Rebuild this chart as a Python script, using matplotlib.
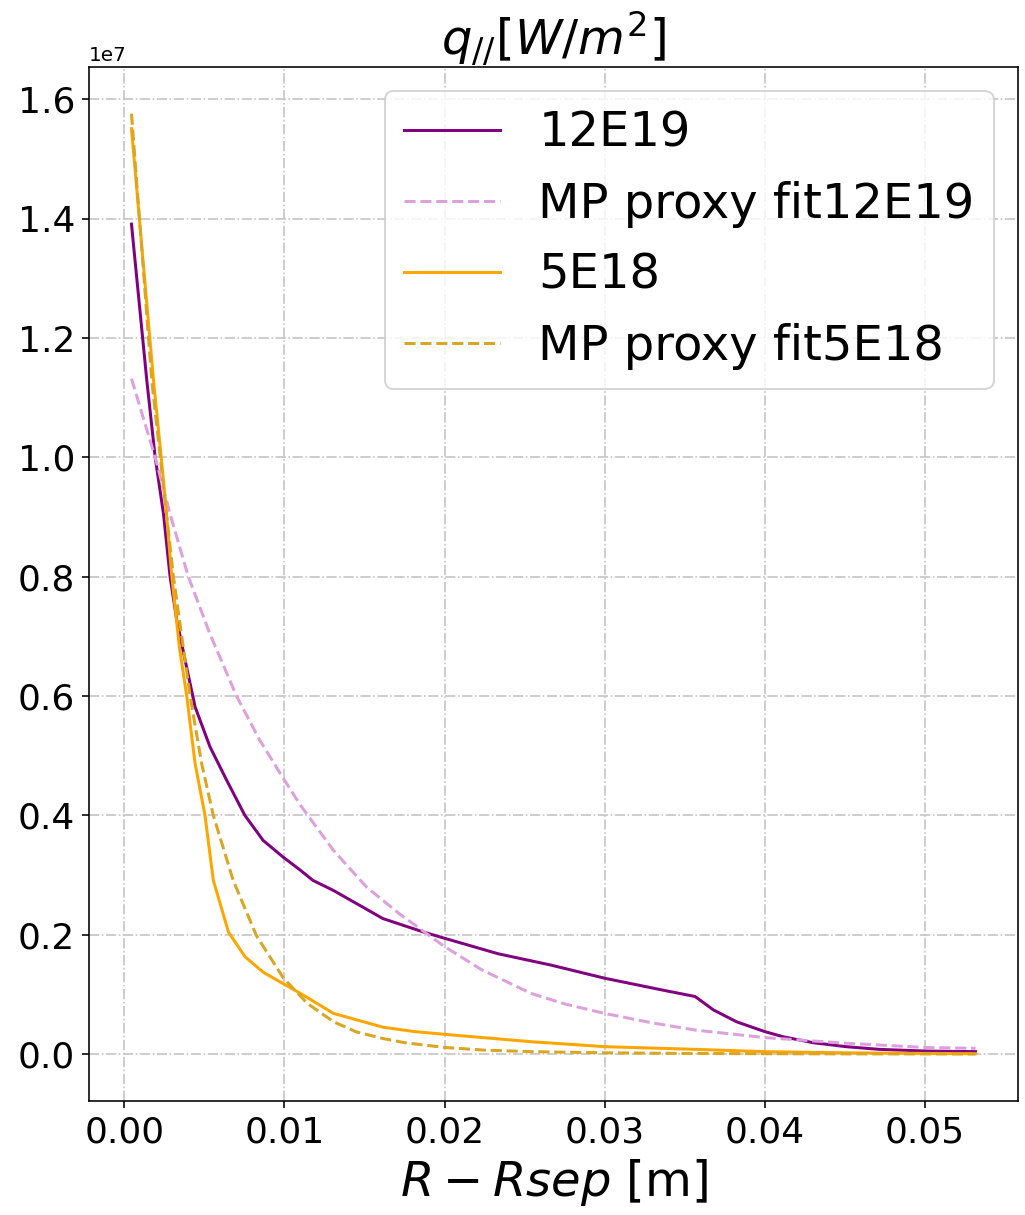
import matplotlib
matplotlib.use('Agg')
import matplotlib.pyplot as plt

import numpy as np

# upstream heat flux profiles vs distance from separatrix (values in units of 1e7 W/m^2)
x_12e19 = [0.00045, 0.00141, 0.00193, 0.00245, 0.00286, 0.00328, 0.0038, 0.00442,
           0.00535, 0.00639, 0.00753, 0.00867, 0.00992, 0.0110, 0.01178, 0.01307,
           0.01615, 0.01862, 0.0200, 0.02335, 0.02665, 0.0300, 0.03364, 0.03564,
           0.03678, 0.03823, 0.0400, 0.04113, 0.0430, 0.04507, 0.04714, 0.0500, 0.05315]
q_12e19 = [1.391, 1.128, 1.0, 0.905, 0.8, 0.727, 0.66, 0.582,
           0.515, 0.459, 0.40, 0.358, 0.33, 0.308, 0.291, 0.274,
           0.227, 0.205, 0.194, 0.168, 0.149, 0.127, 0.107, 0.0964,
           0.074, 0.054, 0.0375, 0.029, 0.019, 0.0123, 0.0078, 0.005, 0.004]

x_fit_12e19 = [0.00045, 0.00193, 0.00286, 0.0040, 0.00535, 0.00701, 0.00846, 0.0100,
               0.0110, 0.01307, 0.01512, 0.01718, 0.0200, 0.02233, 0.02541, 0.0275,
               0.0300, 0.0330, 0.0357, 0.0400, 0.0451, 0.0500, 0.05315]
q_fit_12e19 = [1.132, 1.0, 0.905, 0.8, 0.704, 0.6, 0.526, 0.459,
               0.417, 0.341, 0.28, 0.235, 0.18, 0.141, 0.1015, 0.084,
               0.068, 0.052, 0.040, 0.0275, 0.018, 0.011, 0.0095]

x_5e18 = [0.00045, 0.00183, 0.00245, 0.00297, 0.00344, 0.0039, 0.00442, 0.00504,
          0.00556, 0.00651, 0.00754, 0.00868, 0.0110, 0.01307, 0.01615, 0.0180,
          0.0200, 0.02541, 0.0300, 0.0357, 0.0400, 0.0450, 0.0500, 0.05315]
q_5e18 = [1.551, 1.128, 0.961, 0.8, 0.682, 0.6, 0.487, 0.4,
          0.291, 0.204, 0.163, 0.137, 0.1015, 0.068, 0.045, 0.038,
          0.033, 0.0206, 0.0123, 0.0078, 0.004, 0.002, 0.001, 0.0005]

x_fit_5e18 = [0.00045, 0.00172, 0.00307, 0.00411, 0.00483, 0.00556, 0.0068, 0.00826,
              0.00992, 0.01142, 0.01307, 0.0145, 0.01615, 0.0175, 0.0200, 0.0225,
              0.0254, 0.0300, 0.0350, 0.0400, 0.0450, 0.0500, 0.05315]
q_fit_5e18 = [1.576, 1.128, 0.8, 0.6, 0.487, 0.4, 0.291, 0.198,
              0.128, 0.085, 0.054, 0.037, 0.026, 0.019, 0.011, 0.0065,
              0.004, 0.002, 0.001, 0.0005, 0.0002, 0.0001, 0.0]


def plot_profiles():
    fig = plt.figure(figsize=(1025 / 144, 1215 / 144), dpi=144)
    ax = fig.add_axes([0.0871, 0.0938, 0.9058, 0.8513])

    ax.plot(x_12e19, np.array(q_12e19) * 1e7, color='purple', label='12E19')
    ax.plot(x_fit_12e19, np.array(q_fit_12e19) * 1e7, '--', color='plum',
            label='MP proxy fit12E19')
    ax.plot(x_5e18, np.array(q_5e18) * 1e7, color='orange', label='5E18')
    ax.plot(x_fit_5e18, np.array(q_fit_5e18) * 1e7, '--', color='goldenrod',
            label='MP proxy fit5E18')

    ax.set_title(r'$q_{//} [W/m^2]$', fontsize=24)
    ax.set_xlabel(r'$R - Rsep$ [m]', fontsize=24)
    ax.tick_params(labelsize=18)
    ax.grid(True, ls='-.', color='0.76', lw=0.8)
    ax.legend(fontsize=24, loc='upper right')

    fig.savefig('out.png', dpi=144)


if __name__ == "__main__":
    plot_profiles()
